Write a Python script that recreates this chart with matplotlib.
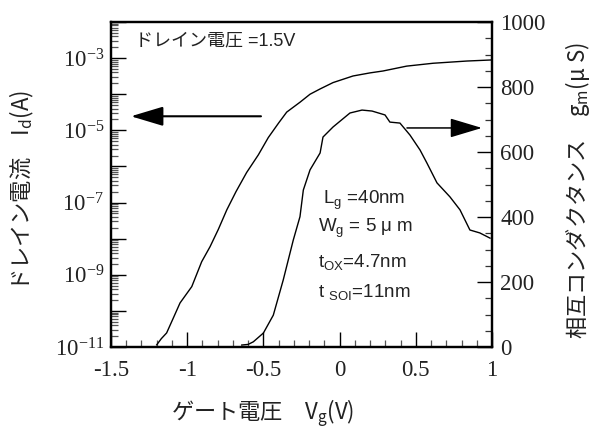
import matplotlib
matplotlib.use('Agg')
import matplotlib.pyplot as plt
from matplotlib.ticker import FixedLocator, FixedFormatter, LogLocator, NullFormatter, MultipleLocator

# ドレイン電流 Id (A) vs ゲート電圧 Vg (V)
id_vg = [-1.20, -1.17, -1.135, -1.09, -1.047, -0.97, -0.905, -0.85, -0.796, -0.74,
         -0.68, -0.61, -0.533, -0.468, -0.40, -0.347, -0.26, -0.194, -0.128, -0.043,
         0.088, 0.20, 0.285, 0.44, 0.613, 0.835, 1.0]
id_amp = [1.15e-11, 1.7e-11, 2.45e-11, 6.5e-11, 1.66e-10, 4.7e-10, 2.3e-9, 6.0e-9, 1.8e-8, 6.3e-8,
          2.0e-7, 6.8e-7, 2.1e-6, 6.3e-6, 1.6e-5, 3.2e-5, 6.0e-5, 1.0e-4, 1.4e-4, 2.1e-4,
          3.2e-4, 3.9e-4, 4.4e-4, 6.0e-4, 7.2e-4, 8.3e-4, 8.9e-4]

# 相互コンダクタンス gm (uS)
gm_vg = [-0.642, -0.60, -0.566, -0.5, -0.435, -0.37, -0.304, -0.26, -0.238, -0.194,
         -0.128, -0.109, -0.043, 0.068, 0.147, 0.213, 0.298, 0.33, 0.396, 0.462,
         0.528, 0.573, 0.639, 0.724, 0.79, 0.855, 0.92, 0.987]
gm_us = [6, 8, 16, 43, 98, 206, 329, 401, 483, 545,
         597, 646, 677, 720, 729, 726, 714, 692, 689, 652,
         606, 566, 505, 462, 422, 360, 351, 335]

x_ticks = [-1.5, -1, -0.5, 0, 0.5, 1]
x_tick_labels = ['-1.5', '-1', '-0.5', '0', '0.5', '1']
decades = [1e-11, 1e-10, 1e-9, 1e-8, 1e-7, 1e-6, 1e-5, 1e-4, 1e-3, 1e-2]
decade_labels = [r'$\mathregular{10^{-11}}$', '', r'$\mathregular{10^{-9}}$', '',
                 r'$\mathregular{10^{-7}}$', '', r'$\mathregular{10^{-5}}$', '',
                 r'$\mathregular{10^{-3}}$', '']
gm_ticks = [0, 200, 400, 600, 800, 1000]

SERIF = 'Liberation Serif'
CJK = 'Noto Sans CJK JP'
TXT = '#222222'

fig = plt.figure(figsize=(6, 4.34), dpi=100)
ax = fig.add_axes([111 / 600, 87 / 434, 381 / 600, 325 / 434])
ax2 = ax.twinx()

ax.plot(id_vg, id_amp, color='black', lw=1.0)
ax2.plot(gm_vg, gm_us, color='black', lw=1.0)

ax.set_xlim(-1.5, 1)
ax.set_yscale('log')
ax.set_ylim(1e-11, 1e-2)
ax2.set_ylim(0, 1000)

ax.xaxis.set_major_locator(FixedLocator(x_ticks))
ax.xaxis.set_major_formatter(FixedFormatter(x_tick_labels))
ax.xaxis.set_minor_locator(MultipleLocator(0.1))
ax.yaxis.set_major_locator(FixedLocator(decades))
ax.yaxis.set_major_formatter(FixedFormatter(decade_labels))
ax.yaxis.set_minor_locator(LogLocator(base=10, subs=(2, 3, 4, 5, 6, 7, 8, 9), numticks=20))
ax.yaxis.set_minor_formatter(NullFormatter())
ax2.yaxis.set_major_locator(FixedLocator(gm_ticks))
ax2.yaxis.set_minor_locator(MultipleLocator(50))

ax.tick_params(axis='both', which='major', direction='in', length=11, width=1.0,
               labelsize=16.5, labelcolor=TXT, top=False, right=False)
ax.tick_params(axis='both', which='minor', direction='in', length=5, width=0.9,
               color='#555555', top=False, right=False)
ax.tick_params(axis='x', which='major', pad=9)
ax.tick_params(axis='y', which='major', pad=5)
ax2.tick_params(axis='y', which='major', direction='in', length=11, width=1.0,
                labelsize=16.5, labelcolor=TXT, pad=6)
ax2.tick_params(axis='y', which='minor', direction='in', length=5, width=0.9, color='#333333')

for lbl in ax.get_xticklabels() + ax.get_yticklabels() + ax2.get_yticklabels():
    lbl.set_fontfamily(SERIF)

# even decades and the +-0.5 ticks are drawn grey in the original
for t, v in zip(ax.yaxis.get_major_ticks(), decades):
    if v in (1e-10, 1e-8, 1e-6, 1e-4, 1e-2):
        t.tick1line.set_color('#888888')
for t, v in zip(ax.xaxis.get_major_ticks(), x_ticks):
    if v in (-0.5, 0.5):
        t.tick1line.set_color('#888888')
for t, v in zip(ax2.yaxis.get_major_ticks(), gm_ticks):
    if v in (400, 800):
        t.tick2line.set_color('#888888')

for a in (ax, ax2):
    for s in a.spines.values():
        s.set_linewidth(1.6)

# arrows pointing to each axis
ax.annotate('', xy=(-1.369, 2.45e-5), xytext=(-0.516, 2.45e-5),
            arrowprops=dict(arrowstyle='-|>,head_length=2.0,head_width=0.6',
                            mutation_scale=10, lw=1.5, color='#333333',
                            fc='black', ec='black', shrinkA=0, shrinkB=0))
ax2.annotate('', xy=(0.934, 674), xytext=(0.442, 674),
             arrowprops=dict(arrowstyle='-|>,head_length=2.0,head_width=0.6',
                             mutation_scale=10, lw=1.1, color='black',
                             shrinkA=0, shrinkB=0))

fig.text(135 / 600, 1 - 45 / 434, 'ドレイン電圧 =1.5V', family=['Liberation Sans', CJK],
         fontsize=13, color=TXT, ha='left', va='baseline')

params = [r'L$_\mathregular{g}$ =40nm', r'W$_\mathregular{g}$ = 5 μ m',
          r't$_\mathregular{OX}$=4.7nm', r't $_\mathregular{SOI}$=11nm']
param_x = [323, 318, 318, 318]
param_y = [204, 232, 268, 298]
for s, px, py in zip(params, param_x, param_y):
    fig.text(px / 600, 1 - py / 434, s, family='Liberation Sans', fontsize=13.5,
             color=TXT, ha='left', va='baseline')

fig.text(263 / 600, 1 - 420 / 434, 'ゲート電圧　V$_\\mathregular{g}$(V)', family=CJK,
         fontsize=16, color=TXT, ha='center', va='baseline')
fig.text(22 / 600, 1 - 191 / 434, 'ドレイン電流　I$_\\mathregular{d}$(A)', family=CJK,
         fontsize=16, color=TXT, rotation=90, ha='center', va='center')
fig.text(578 / 600, 1 - 190 / 434, '相互コンダクタンス　g$_\\mathregular{m}$(μ S)', family=CJK,
         fontsize=16, color=TXT, rotation=90, ha='center', va='center')

fig.savefig('out.png', dpi=100)
